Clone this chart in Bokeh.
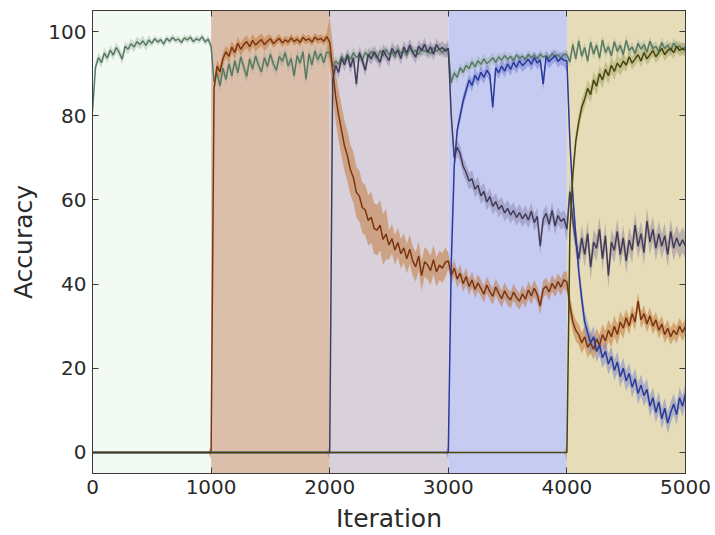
from bokeh.plotting import figure
from bokeh.models import Range1d, FixedTicker, LinearAxis, ColumnDataSource
from bokeh.embed import file_html
from bokeh.resources import INLINE

# ---------------- data ----------------
STEP = 25
iterations = list(range(0, 5001, STEP))

phase_start = [0, 1000, 2000, 3000, 4000]
phase_end = [1000, 2000, 3000, 4000, 5000]
phase_colors = ["#f3f9f3", "#dcbfab", "#d8d0da", "#c6cbf2", "#e6dcb8"]

x_ticks = [0, 1000, 2000, 3000, 4000, 5000]
y_ticks = [0, 20, 40, 60, 80, 100]

# task 1 (green)
task1 = [
    81.0, 91.5, 93.8, 92.6, 94.9, 93.7, 95.6, 94.4, 96.2, 95.1,
    93.4, 96.5, 95.8, 97.1, 96.3, 97.6, 96.9, 97.8, 96.7, 98.0,
    97.2, 98.3, 97.5, 98.1, 97.0, 98.4, 97.7, 98.6, 97.9, 98.2,
    97.4, 98.5, 98.0, 98.7, 97.6, 98.3, 97.9, 98.8, 97.5, 98.2,
] + [
    96.5, 88.0, 90.2, 87.1, 91.3, 88.6, 92.4, 89.5, 93.1, 90.2,
    94.0, 91.6, 89.3, 93.5, 91.1, 94.2, 92.0, 90.4, 93.8, 91.7,
    94.6, 92.3, 90.8, 94.1, 92.9, 95.0, 91.8, 93.6, 89.4, 94.3,
    92.5, 95.2, 88.6, 94.7, 92.1, 95.4, 93.3, 94.8, 92.6, 95.1,
] + [
    95.0, 91.5, 93.0, 92.2, 94.1, 93.0, 94.6, 93.4, 95.0, 93.8,
    94.5, 93.2, 95.1, 94.0, 95.3, 94.4, 93.6, 95.5, 94.2, 95.8,
    94.6, 95.2, 94.0, 95.9, 94.8, 95.4, 94.3, 96.0, 95.0, 95.6,
    94.5, 96.1, 95.2, 95.7, 94.7, 96.2, 95.3, 95.9, 94.9, 96.0,
] + [
    95.5, 87.8, 90.2, 89.1, 91.4, 90.3, 92.0, 91.2, 92.8, 91.6,
    93.1, 92.2, 93.5, 92.4, 93.0, 93.8, 92.7, 94.0, 93.2, 94.3,
    93.4, 94.1, 93.0, 94.5, 93.6, 94.2, 93.3, 94.6, 93.8, 94.4,
    93.5, 94.7, 93.9, 94.3, 93.6, 94.8, 94.0, 94.5, 93.7, 94.6,
] + [
    94.5, 92.8, 96.9, 93.5, 97.8, 94.1, 96.2, 93.0, 97.5, 94.6,
    96.8, 93.7, 98.0, 95.0, 96.4, 94.2, 97.6, 95.3, 96.7, 94.5,
    97.9, 95.5, 96.3, 94.8, 97.2, 95.8, 96.9, 95.1, 97.7, 95.9,
    96.5, 95.2, 97.4, 96.0, 96.8, 95.4, 97.3, 96.1, 96.6, 95.7,
] + [96.4]

# task 2 (brown)
task2 = [0.0] * 40 + [
    0.0, 86.5, 91.8, 90.4, 93.6, 95.2, 94.1, 96.3, 95.0, 97.2,
    95.8, 96.9, 97.6, 96.4, 97.9, 96.8, 97.5, 98.1, 96.9, 97.7,
    98.3, 97.1, 97.8, 98.4, 97.3, 98.0, 97.5, 98.5, 97.6, 98.2,
    97.4, 98.6, 97.9, 98.3, 97.5, 98.7, 98.0, 98.4, 97.7, 98.8,
] + [
    97.5, 91.0, 84.6, 80.2, 76.5, 72.8, 70.4, 67.1, 65.3, 61.8,
    60.9, 58.2, 57.6, 55.1, 55.9, 53.2, 52.8, 54.0, 50.6, 51.9,
    49.3, 50.8, 48.1, 49.9, 47.2, 48.6, 46.0, 48.3, 45.5, 44.1,
    46.7, 42.0, 45.3, 44.6, 43.2, 45.8, 42.9, 44.5, 43.8, 45.2,
] + [
    45.5, 42.0, 43.8, 41.2, 42.6, 40.1, 41.8, 39.4, 41.0, 38.7,
    40.3, 39.0, 37.6, 39.8, 38.2, 37.1, 39.3, 37.8, 36.5, 38.4,
    37.0, 36.2, 38.1, 36.8, 35.9, 37.7, 36.4, 38.6, 37.2, 39.0,
    37.5, 34.8, 38.8, 39.5, 38.1, 40.2, 38.9, 40.6, 39.3, 41.0,
] + [
    40.5, 35.0, 31.0, 29.0, 28.0, 26.0, 27.5, 25.0, 26.0, 24.5,
    27.0, 25.5, 28.0, 26.5, 29.0, 27.5, 30.0, 28.0, 31.0, 29.5,
    32.0, 30.0, 33.0, 31.0, 36.0, 31.5, 33.0, 30.5, 32.5, 30.0,
    31.5, 29.0, 30.5, 28.0, 29.5, 27.5, 29.0, 28.0, 30.0, 28.5,
] + [30.0]

# task 3 (purple)
task3 = [0.0] * 80 + [
    0.0, 88.5, 92.0, 90.3, 93.6, 92.1, 94.4, 91.5, 93.8, 87.5,
    95.0, 93.2, 90.8, 94.6, 93.5, 95.2, 94.0, 92.7, 95.6, 94.3,
    93.1, 96.0, 94.8, 95.5, 93.6, 96.3, 94.9, 96.8, 95.1, 93.9,
    96.5, 95.4, 97.0, 95.0, 96.4, 94.6, 96.9, 95.7, 96.2, 95.3,
] + [
    96.0, 80.0, 70.0, 72.5, 71.0, 68.0, 66.5, 64.5, 65.0, 62.5,
    63.5, 61.0, 62.0, 59.5, 60.8, 58.5, 59.6, 57.8, 58.7, 56.9,
    58.0, 56.4, 57.5, 55.8, 57.0, 55.5, 56.7, 55.2, 57.3, 54.6,
    56.1, 49.0, 55.4, 56.8, 54.2, 57.5, 53.8, 56.3, 54.9, 55.6,
] + [
    53.0, 62.0, 55.0, 50.0, 46.0, 51.0, 47.0, 52.0, 44.0, 50.0,
    48.5, 53.0, 46.0, 51.5, 42.0, 50.0, 48.0, 52.5, 47.0, 51.0,
    45.5, 50.5, 48.0, 54.0, 49.0, 52.0, 47.5, 55.0, 50.0, 53.0,
    48.5, 52.0, 49.0, 51.5, 47.0, 52.5, 48.5, 51.0, 49.0, 50.5,
] + [49.0]

# task 4 (blue)
task4 = [0.0] * 120 + [
    0.0, 45.0, 68.0, 76.5, 80.0, 83.5, 86.0, 88.5, 87.2, 89.6,
    88.4, 90.3, 89.1, 90.8, 89.7, 82.0, 91.4, 90.2, 91.8, 90.6,
    92.3, 91.0, 92.7, 91.5, 93.1, 91.9, 92.6, 93.4, 92.2, 93.8,
    92.5, 93.3, 87.5, 94.1, 92.8, 93.6, 94.3, 92.9, 93.7, 93.2,
] + [
    93.0, 74.0, 61.0, 51.5, 43.0, 36.5, 31.0, 28.5, 26.0, 27.5,
    24.0, 25.5, 22.5, 24.0, 21.0, 22.8, 19.5, 21.5, 18.0, 20.0,
    17.0, 18.8, 15.5, 17.5, 14.0, 16.0, 13.5, 15.0, 11.0, 13.0,
    9.5, 12.0, 8.0, 10.5, 7.0, 9.5, 11.5, 9.0, 13.0, 11.0,
] + [14.0]

# task 5 (olive)
task5 = [0.0] * 160 + [
    0.0, 52.0, 66.0, 74.0, 78.5, 82.0, 84.0, 86.5, 85.0, 88.5,
    87.0, 90.0, 88.5, 91.0, 89.5, 92.0, 90.5, 92.5, 91.5, 93.0,
    92.0, 94.0, 92.5, 93.5, 94.5, 93.0, 95.0, 93.5, 94.5, 95.5,
    94.0, 95.0, 96.0, 94.5, 95.5, 96.0, 95.0, 96.5, 95.5, 96.0,
] + [95.5]

# spread (half width of shaded band) per 500-iteration block
spread1 = [1.2, 0.8, 1.5, 1.5, 1.2, 1.2, 1.2, 1.0, 1.2, 1.2]
spread2 = [0.0, 0.0, 1.5, 1.0, 6.0, 3.5, 2.0, 2.0, 2.5, 2.0]
spread3 = [0.0, 0.0, 0.0, 0.0, 1.5, 1.5, 2.0, 2.0, 3.0, 3.0]
spread4 = [0.0, 0.0, 0.0, 0.0, 0.0, 0.0, 1.5, 1.5, 2.5, 2.5]
spread5 = [0.0, 0.0, 0.0, 0.0, 0.0, 0.0, 0.0, 0.0, 2.0, 1.5]

line_colors = ["#587a62", "#7a3510", "#423c58", "#2a3a98", "#454510"]
band_colors = ["#7fa088", "#c47a3c", "#7a7096", "#6876d0", "#8a8a40"]
band_alphas = [0.3, 0.55, 0.4, 0.45, 0.35]

# ---------------- build ----------------
series = [task1, task2, task3, task4, task5]
spreads = [spread1, spread2, spread3, spread4, spread5]

data = {"iteration": iterations}
for k, (vals, spr) in enumerate(zip(series, spreads)):
    lo, hi = [], []
    for it, v in zip(iterations, vals):
        s = spr[min(it // 500, 9)]
        lo.append(v - s)
        hi.append(v + s)
    data[f"t{k}"] = vals
    data[f"t{k}_lo"] = lo
    data[f"t{k}_hi"] = hi
src = ColumnDataSource(data)

Y0, Y1 = -5, 105
p = figure(width=715, height=535, x_range=Range1d(0, 5000), y_range=Range1d(Y0, Y1),
           output_backend="svg", toolbar_location=None,
           min_border_left=92, min_border_right=30, min_border_top=10, min_border_bottom=62)
p.xgrid.visible = False
p.ygrid.visible = False
p.background_fill_color = "white"
p.border_fill_color = "white"
p.outline_line_color = "#3a3a3a"
p.outline_line_width = 1

bg = ColumnDataSource(dict(left=phase_start, right=phase_end, color=phase_colors,
                           bottom=[Y0] * len(phase_start), top=[Y1] * len(phase_start)))
p.quad(left="left", right="right", bottom="bottom", top="top", fill_color="color",
       line_color=None, source=bg)

for k in range(5):
    p.varea(x="iteration", y1=f"t{k}_lo", y2=f"t{k}_hi", source=src,
            fill_color=band_colors[k], fill_alpha=band_alphas[k])
for k in range(5):
    p.line(x="iteration", y=f"t{k}", source=src, line_color=line_colors[k], line_width=1.5)

FONT = "DejaVu Sans"
for ax, ticks in ((p.xaxis[0], x_ticks), (p.yaxis[0], y_ticks)):
    ax.ticker = FixedTicker(ticks=ticks)
    ax.major_tick_in = 6
    ax.major_tick_out = 0
    ax.minor_tick_line_color = None
    ax.axis_line_color = "#3a3a3a"
    ax.major_tick_line_color = "#3a3a3a"
    ax.major_label_text_font = FONT
    ax.major_label_text_font_size = "20px"
    ax.major_label_text_color = "#2a2a2a"
    ax.major_label_standoff = 6
    ax.axis_label_text_font = FONT
    ax.axis_label_text_font_size = "25px"
    ax.axis_label_text_font_style = "normal"
    ax.axis_label_text_color = "#2a2a2a"
    ax.axis_label_standoff = 7

p.xaxis.axis_label = "Iteration"
p.yaxis.axis_label = "Accuracy"

for side, ticks in (("right", y_ticks), ("above", x_ticks)):
    ax = LinearAxis(ticker=FixedTicker(ticks=ticks),
                    major_label_overrides={t: "" for t in ticks},
                    major_tick_in=6, major_tick_out=0, major_label_standoff=0,
                    minor_tick_line_color=None, axis_line_color="#3a3a3a",
                    major_tick_line_color="#3a3a3a")
    p.add_layout(ax, side)

open("out.html", "w").write(file_html(p, INLINE))
